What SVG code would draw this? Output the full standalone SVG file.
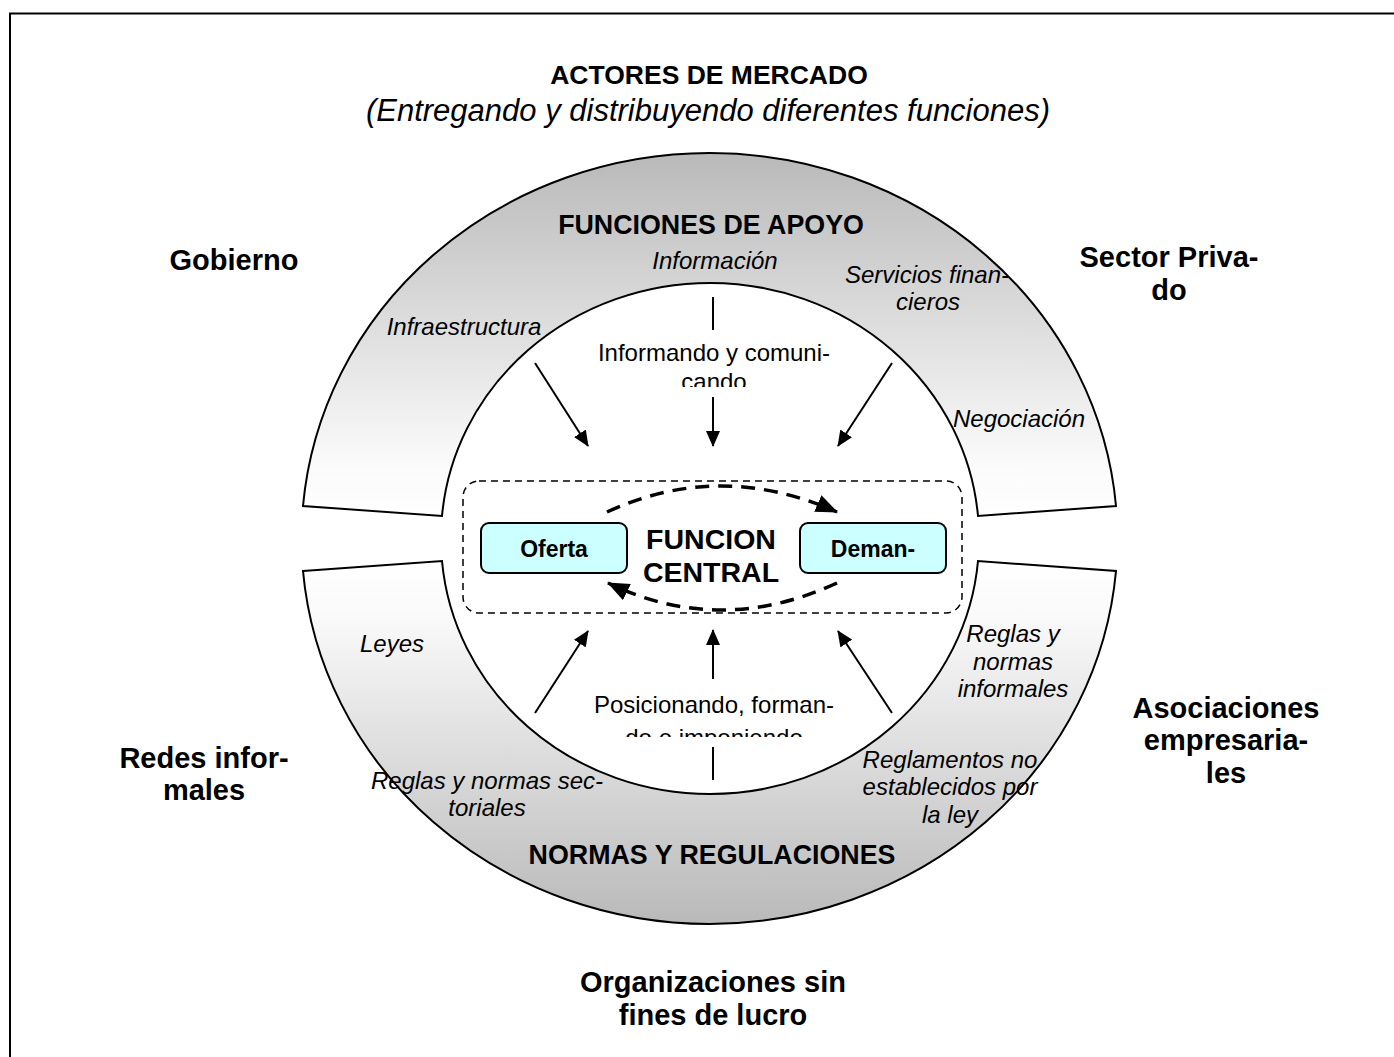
<svg xmlns="http://www.w3.org/2000/svg" width="1394" height="1057" viewBox="0 0 1394 1057">
<style>
  text { font-family: "Liberation Sans", Arial, sans-serif; fill: #000; }
  .h1 { font-size: 26.5px; font-weight: bold; text-anchor: middle; }
  .sub { font-size: 31px; font-style: italic; text-anchor: middle; }
  .act { font-size: 29px; font-weight: bold; text-anchor: middle; }
  .ring { font-size: 26.8px; font-weight: bold; text-anchor: middle; }
  .lab { font-size: 24px; font-style: italic; text-anchor: middle; }
  .reg { font-size: 24px; text-anchor: middle; }
  .box { font-size: 23px; font-weight: bold; text-anchor: middle; }
  .fc { font-size: 28.5px; font-weight: bold; text-anchor: middle; }
  .ringshape { stroke: #000; stroke-width: 2; }
  .arr { stroke: #000; stroke-width: 2; fill: none; }
  .dash { stroke: #000; stroke-width: 3.5; fill: none; stroke-dasharray: 14 9; }
  .nodebox { fill: #ccffff; stroke: #000; stroke-width: 2; }
</style>
<defs>
  <linearGradient id="gTop" x1="0" y1="0" x2="0" y2="1">
    <stop offset="0" stop-color="#b9b9b9"/>
    <stop offset="0.85" stop-color="#fafafa"/>
    <stop offset="1" stop-color="#ffffff"/>
  </linearGradient>
  <linearGradient id="gBot" x1="0" y1="0" x2="0" y2="1">
    <stop offset="0" stop-color="#ffffff"/>
    <stop offset="0.15" stop-color="#fafafa"/>
    <stop offset="1" stop-color="#b9b9b9"/>
  </linearGradient>
  <marker id="ah" markerUnits="userSpaceOnUse" markerWidth="16" markerHeight="14" refX="15" refY="7" orient="auto">
    <path d="M0,0 L16,7 L0,14 Z" fill="#000"/>
  </marker>
  <marker id="ahd" markerUnits="userSpaceOnUse" markerWidth="22" markerHeight="18" refX="21" refY="9" orient="auto">
    <path d="M0,0 L22,9 L0,18 Z" fill="#000"/>
  </marker>
  <clipPath id="clipTop"><rect x="560" y="330" width="310" height="57"/></clipPath>
  <clipPath id="clipBot"><rect x="560" y="680" width="310" height="57"/></clipPath>
</defs>

<rect x="10" y="13.5" width="1400" height="1100" fill="#fff" stroke="#000" stroke-width="2"/>

<g id="title">
  <text class="h1" x="709" y="84">ACTORES DE MERCADO</text>
  <text class="sub" x="708" y="121">(Entregando y distribuyendo diferentes funciones)</text>
</g>

<g id="ring-top">
  <path class="ringshape" fill="url(#gTop)" d="M303,506 A408,386 0 0 1 1116,506 L978,516 A269,255 0 0 0 442,516 Z"/>
  <text class="ring" x="711" y="234">FUNCIONES DE APOYO</text>
  <text class="lab" x="715" y="269">Información</text>
  <text class="lab" x="464" y="335">Infraestructura</text>
  <text class="lab" x="927" y="283">Servicios finan-</text>
  <text class="lab" x="928" y="310">cieros</text>
  <text class="lab" x="1019" y="427">Negociación</text>
</g>

<g id="ring-bottom">
  <path class="ringshape" fill="url(#gBot)" d="M303,571 L442,561 A269,255 0 0 0 978,561 L1116,571 A408,386 0 0 1 303,571 Z"/>
  <text class="ring" x="712" y="864">NORMAS Y REGULACIONES</text>
  <text class="lab" x="392" y="652">Leyes</text>
  <text class="lab" x="487" y="789">Reglas y normas sec-</text>
  <text class="lab" x="487" y="816">toriales</text>
  <text class="lab" x="1013" y="642">Reglas y</text>
  <text class="lab" x="1013" y="670">normas</text>
  <text class="lab" x="1013" y="697">informales</text>
  <text class="lab" x="950" y="768">Reglamentos no</text>
  <text class="lab" x="950" y="795">establecidos por</text>
  <text class="lab" x="950" y="823">la ley</text>
</g>

<g id="informando">
  <g clip-path="url(#clipTop)">
    <text class="reg" x="714" y="361">Informando y comuni-</text>
    <text class="reg" x="714" y="390">cando</text>
  </g>
</g>

<g id="posicionando">
  <g clip-path="url(#clipBot)">
    <text class="reg" x="714" y="713">Posicionando, forman-</text>
    <text class="reg" x="714" y="746">do e imponiendo</text>
  </g>
</g>

<g id="funcion-central">
  <rect x="463" y="481" width="499" height="132" rx="16" fill="none" stroke="#000" stroke-width="1.5" stroke-dasharray="7 5"/>
  <text class="fc" x="711" y="549">FUNCION</text>
  <text class="fc" x="711" y="582">CENTRAL</text>
</g>

<g id="oferta">
  <rect class="nodebox" x="481" y="523" width="146" height="50" rx="8"/>
  <text class="box" x="554" y="557">Oferta</text>
</g>

<g id="demanda">
  <rect class="nodebox" x="800" y="523" width="146" height="50" rx="8"/>
  <text class="box" x="873" y="557">Deman-</text>
</g>

<g id="actors">
  <text class="act" x="234" y="270">Gobierno</text>
  <text class="act" x="1169" y="267">Sector Priva-</text>
  <text class="act" x="1169" y="300">do</text>
  <text class="act" x="204" y="768">Redes infor-</text>
  <text class="act" x="204" y="800">males</text>
  <text class="act" x="1226" y="718">Asociaciones</text>
  <text class="act" x="1226" y="750">empresaria-</text>
  <text class="act" x="1226" y="783">les</text>
  <text class="act" x="713" y="992">Organizaciones sin</text>
  <text class="act" x="713" y="1025">fines de lucro</text>
</g>

<g id="connectors">
  <line class="arr" x1="713" y1="297" x2="713" y2="330"/>
  <line class="arr" x1="713" y1="397" x2="713" y2="446" marker-end="url(#ah)"/>
  <line class="arr" x1="535" y1="363" x2="588" y2="446" marker-end="url(#ah)"/>
  <line class="arr" x1="892" y1="363" x2="838" y2="446" marker-end="url(#ah)"/>
  <line class="arr" x1="535" y1="713" x2="588" y2="631" marker-end="url(#ah)"/>
  <line class="arr" x1="713" y1="679" x2="713" y2="630" marker-end="url(#ah)"/>
  <line class="arr" x1="713" y1="747" x2="713" y2="780"/>
  <line class="arr" x1="892" y1="713" x2="838" y2="631" marker-end="url(#ah)"/>
  <path class="dash" d="M607,512 Q720,460 837,512" marker-end="url(#ahd)"/>
  <path class="dash" d="M837,583 Q720,637 608,583" marker-end="url(#ahd)"/>
</g>
</svg>
